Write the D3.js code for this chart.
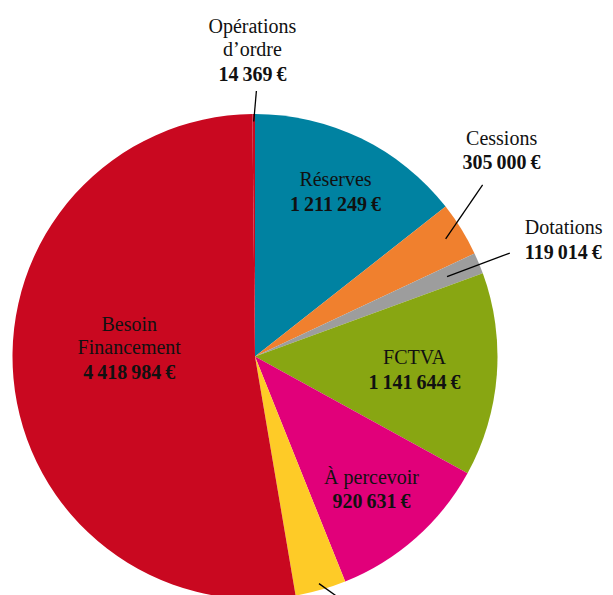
<!DOCTYPE html>
<html><head><meta charset="utf-8">
<script src="https://cdn.jsdelivr.net/npm/d3@7"></script>
<style>html,body{margin:0;padding:0;background:#fff;overflow:hidden}svg{display:block}</style>
</head><body>
<svg id="chart" width="613" height="595"></svg>
<script>
// Data (clockwise from 12 o'clock)
const categories = ["Réserves","Cessions","Dotations","FCTVA","À percevoir","Subventions","Besoin Financement","Opérations d’ordre"];
const values = [1211249,305000,119014,1141644,920631,285000,4418984,14369];
const colors = ["#0082a1","#f0802e","#9d9d9d","#88a612","#e1007a","#fecb27","#c90820","#c60a22"];
const labelLines = [["Réserves"],["Cessions"],["Dotations"],["FCTVA"],["À percevoir"],[],["Besoin","Financement"],["Opérations","d’ordre"]];

const fmt = v => d3.format(",")(v).replace(/,/g, "\u2009") + "\u2009€";

const svg = d3.select("#chart");
const cx = 255, cy = 356.5, R = 242.5;
const g = svg.append("g").attr("transform", `translate(${cx},${cy})`);

const data = categories.map((c, i) => ({name: c, value: values[i], color: colors[i], lines: labelLines[i]}));
const pie = d3.pie().sort(null).value(d => d.value).startAngle(0).endAngle(2 * Math.PI);
const arcs = pie(data);
const arc = d3.arc().innerRadius(0).outerRadius(R);

g.selectAll("path.slice").data(arcs).enter().append("path")
  .attr("class", "slice").attr("d", arc).attr("fill", d => d.data.color);

const font = "'Liberation Serif','Times New Roman',serif";
const LH = 23;
function polar(a, r) { return [r * Math.sin(a), -r * Math.cos(a)]; }
const mid = d => (d.startAngle + d.endAngle) / 2;
const rad = deg => deg * Math.PI / 180;

// inside labels: radius factor (and optional angle override, degrees)
const inside = {"Réserves": {f: 0.76}, "FCTVA": {f: 0.66}, "À percevoir": {f: 0.725}, "Besoin Financement": {f: 0.52, a: 274.1}};
// outside labels: leader from (mid angle, rIn) to (angle, rOut); text offset from leader end
const outside = {
  "Opérations d’ordre": {rIn: 235, a: 0.3, rOut: 265.5, dx: -4, dy: -12, anchor: "middle", show: true},
  "Cessions": {rIn: 224, a: 53, rOut: 285, dx: 19, dy: -17, anchor: "middle", show: true},
  "Dotations": {rIn: 208, a: 67.9, rOut: 275, dx: 15, dy: 4, anchor: "start", show: true},
  "Subventions": {rIn: 236, a: 158, rOut: 275, show: false}
};

function drawText(x, yFirst, lines, value, anchor) {
  const t = g.append("text").attr("text-anchor", anchor)
    .attr("font-family", font).attr("font-size", 20).attr("fill", "#111");
  lines.forEach((l, i) => t.append("tspan").attr("x", x).attr("y", yFirst + i * LH).text(l));
  t.append("tspan").attr("x", x).attr("y", yFirst + lines.length * LH + 1.5)
    .attr("font-weight", "bold").text(fmt(value));
}

arcs.forEach(d => {
  const name = d.data.name;
  if (inside[name]) {
    const o = inside[name];
    const a = o.a !== undefined ? rad(o.a) : mid(d);
    const [x, y] = polar(a, R * o.f);
    const n = d.data.lines.length + 1;
    const yFirst = y - (n - 1) * LH / 2 + 7;
    drawText(x, yFirst, d.data.lines, d.data.value, "middle");
  } else if (outside[name]) {
    const o = outside[name];
    const p0 = polar(mid(d), o.rIn);
    const p1 = polar(rad(o.a), o.rOut);
    g.append("line").attr("x1", p0[0]).attr("y1", p0[1]).attr("x2", p1[0]).attr("y2", p1[1])
      .attr("stroke", "#000").attr("stroke-width", 1.3);
    if (o.show) {
      const n = d.data.lines.length;
      const yFirst = p1[1] + o.dy - n * LH;
      drawText(p1[0] + o.dx, yFirst, d.data.lines, d.data.value, o.anchor);
    }
  }
});
</script>
</body></html>
